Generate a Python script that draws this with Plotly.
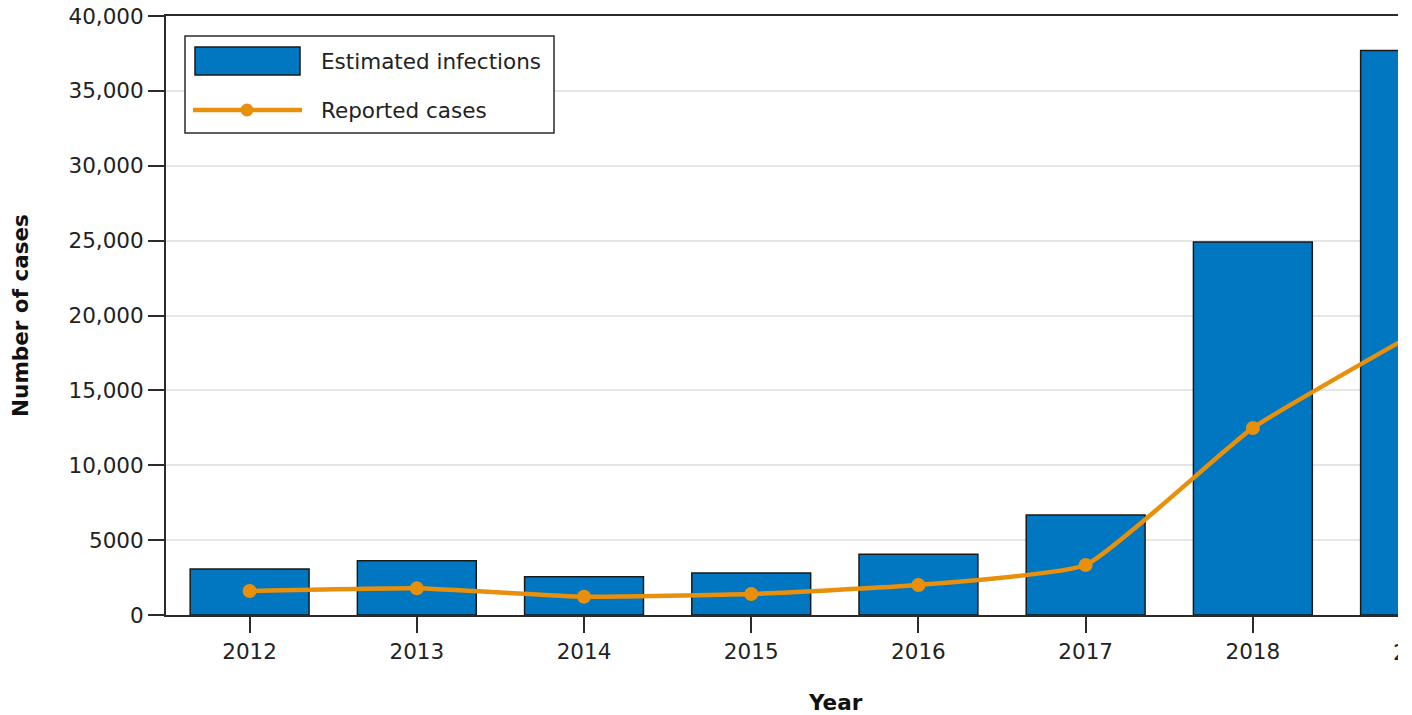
import plotly.graph_objects as go

# ---- data ----
years = [2012, 2013, 2014, 2015, 2016, 2017, 2018, 2019]
estimated_infections = [3070, 3630, 2560, 2800, 4050, 6680, 24900, 37700]
reported_cases = [1600, 1780, 1220, 1400, 2000, 3340, 12490, 19000]
y_tick_vals = [0, 5000, 10000, 15000, 20000, 25000, 30000, 35000, 40000]
y_tick_text = ["0", "5000", "10,000", "15,000", "20,000", "25,000", "30,000", "35,000", "40,000"]

# ---- layout geometry (page pixels; the page body adds an 8px offset) ----
OFF = 8
W, H = 1398 - OFF, 715 - OFF
L, R, T, B = 166, 1398, 16, 615
x_range = [2011.5, 2018.868]

FONT = "DejaVu Sans"
FS = 21.5
BLUE = "#0077C0"
ORANGE = "#E8900C"
DARK = "#2b2b2b"


def pxx(x):
    return (x - L) / (R - L)


def pxy(y):
    return (B - y) / (B - T)


fig = go.Figure()
fig.add_trace(go.Bar(
    x=years, y=estimated_infections, name="Estimated infections",
    marker=dict(color=BLUE, line=dict(color="#1a1a1a", width=1.5)),
    width=0.711,
))
fig.add_trace(go.Scatter(
    x=years, y=reported_cases, name="Reported cases", mode="lines+markers",
    line=dict(color=ORANGE, width=4.5, shape="spline", smoothing=0.4),
    marker=dict(color=ORANGE, size=14),
))

shapes = [
    # legend box
    dict(type="rect", xref="paper", yref="paper", x0=pxx(185), x1=pxx(554), y0=pxy(133), y1=pxy(36),
         line=dict(color=DARK, width=1.5), fillcolor="white", layer="above"),
    dict(type="rect", xref="paper", yref="paper", x0=pxx(195), x1=pxx(300), y0=pxy(75), y1=pxy(47),
         line=dict(color="#1a1a1a", width=1.5), fillcolor=BLUE, layer="above"),
    dict(type="line", xref="paper", yref="paper", x0=pxx(193), x1=pxx(302), y0=pxy(110), y1=pxy(110),
         line=dict(color=ORANGE, width=4.5), layer="above"),
    dict(type="circle", xref="paper", yref="paper", x0=pxx(240.5), x1=pxx(253.5), y0=pxy(116.5), y1=pxy(103.5),
         line=dict(color=ORANGE, width=0), fillcolor=ORANGE, layer="above"),
]

annotations = [
    dict(text="Estimated infections", xref="paper", yref="paper", x=pxx(319), y=pxy(61),
         xanchor="left", yanchor="middle", showarrow=False, font=dict(family=FONT, size=FS, color="#222")),
    dict(text="Reported cases", xref="paper", yref="paper", x=pxx(319), y=pxy(110),
         xanchor="left", yanchor="middle", showarrow=False, font=dict(family=FONT, size=FS, color="#222")),
    dict(text="<b>Year</b>", xref="paper", yref="paper", x=pxx(835), y=pxy(702),
         xanchor="center", yanchor="middle", showarrow=False, font=dict(family=FONT, size=FS, color="#111")),
    # tick label of the last (clipped) category
    dict(text=str(years[-1]), xref="paper", yref="paper",
         x=(years[-1] - x_range[0]) / (x_range[1] - x_range[0]), y=pxy(652),
         xanchor="center", yanchor="middle", showarrow=False, font=dict(family=FONT, size=FS, color="#222")),
]

fig.update_layout(
    width=W, height=H,
    margin=dict(l=L - OFF, r=(OFF + W) - R, t=T - OFF, b=(OFF + H) - B, pad=0),
    paper_bgcolor="white", plot_bgcolor="white",
    showlegend=False,
    font=dict(family=FONT, size=FS, color="#222"),
    shapes=shapes, annotations=annotations,
    xaxis=dict(
        range=x_range, tickmode="array", tickvals=years, ticktext=[str(y) for y in years],
        automargin=False,
        showline=True, linecolor=DARK, linewidth=2, mirror=True,
        ticks="outside", ticklen=16, tickwidth=2, tickcolor=DARK,
        showgrid=False, zeroline=False,
        tickfont=dict(family=FONT, size=FS, color="#222"),
    ),
    yaxis=dict(
        range=[0, 40000], tickmode="array", tickvals=y_tick_vals, ticktext=y_tick_text,
        ticklabeloverflow="allow", automargin=False,
        showline=True, linecolor=DARK, linewidth=2,
        ticks="outside", ticklen=16, tickwidth=2, tickcolor=DARK,
        showgrid=True, gridcolor="#e6e6e6", gridwidth=1.5, zeroline=False,
        tickfont=dict(family=FONT, size=FS, color="#222"),
        title=dict(text="<b>Number of cases</b>", font=dict(family=FONT, size=FS, color="#111"), standoff=35),
    ),
)

fig.write_html("out.html")
